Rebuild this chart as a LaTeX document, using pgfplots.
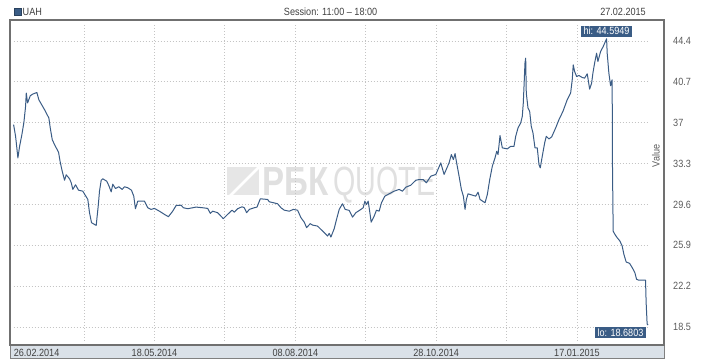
\documentclass[border=0pt]{standalone}
\usepackage{fontspec}
\setmainfont{Liberation Sans}[FakeStretch=0.87]
\newfontfamily\wmfont{Liberation Sans}
\usepackage{pgfplots}
\pgfplotsset{compat=1.18}
\definecolor{lineblue}{RGB}{58,92,133}
\definecolor{framecol}{RGB}{112,112,112}
\definecolor{bandcol}{RGB}{218,225,232}
\definecolor{bandline}{RGB}{128,128,128}
\definecolor{datecol}{RGB}{64,64,64}
\definecolor{tickgray}{RGB}{90,90,90}
\definecolor{gridgray}{RGB}{196,196,196}
\definecolor{wm}{RGB}{224,224,224}
\definecolor{wmlogo}{RGB}{230,230,230}
\newcommand{\chartfont}{\fontsize{10.5}{12}\selectfont}
\begin{document}
\begin{tikzpicture}[font=\chartfont]
\useasboundingbox (0,0) rectangle (718bp,360bp);
% watermark
\begin{scope}[x=1bp,y=1bp]
\fill[wmlogo] (227,165) rectangle (259,193);
\draw[white, line width=2.5bp] (229,163) -- (261,195);
\node[anchor=base west, inner sep=0pt, text=wm] at (262,165) {\resizebox{66bp}{28bp}{\wmfont\bfseries РБК}};
\node[anchor=base west, inner sep=0pt, text=wm] at (333,165) {\resizebox{102bp}{28.5bp}{\wmfont QUOTE}};
\end{scope}
\begin{axis}[
  at={(13.6bp,19bp)}, anchor=south west,
  scale only axis, width=634.7bp, height=317bp,
  xmin=0, xmax=365, ymin=17.24, ymax=45.93,
  axis line style={draw=none},
  major tick length=0pt,
  xtick={40.5,81,121.5,162,202.5,243,283.5,324},
  xticklabels=\empty,
  xticklabel style={text opacity=0, minimum size=0pt, inner sep=0pt, font=\fontsize{0.1}{0.1}\selectfont},
  ytick={18.5,22.2,25.9,29.6,33.3,37,40.7,44.4},
  yticklabels={18.5,22.2,25.9,29.6,33.3,37,40.7,44.4},
  yticklabel pos=right,
  yticklabel style={anchor=west, inner sep=0pt, xshift=24.7bp, font=\chartfont, text=tickgray},
  grid=major,
  major grid style={draw=gridgray, line width=0.8bp, dash pattern=on 1bp off 2bp},
  clip=false,
]
\addplot[lineblue, line width=1bp, line join=round] coordinates {
(0,36.82) (1.15,35.76) (2.47,33.81) (3.45,34.86) (4.77,35.92) (5.92,37.03)
(6.89,38.47) (7.29,39.68) (8.04,38.78) (9.59,39.44) (11.09,39.59) (13.38,39.73)
(14.53,39.07) (15.91,38.69) (17.81,38.17) (20.28,37.42) (21.08,36.52) (22.23,35.46)
(23.55,35.01) (25.85,34.32) (26.82,33.42) (27.97,32.6) (29.29,31.79) (30.27,32.28)
(32.17,31.92) (33.14,31.56) (34.06,30.96) (35.61,31.38) (37.34,30.89) (39.8,30.8)
(40.95,30.5) (42.68,30.05) (43.65,28.85) (44.8,27.95) (47.5,27.7) (48.65,29.44)
(49.4,30.8) (50.37,31.79) (51.29,31.92) (53.59,31.7) (54.74,31.31) (56.12,30.74)
(57.04,31.43) (58.59,31.04) (60.48,31.2) (62.44,30.96) (63.76,31.2) (65.65,31.11)
(67.78,30.89) (69.1,30.35) (70.07,29.21) (71.4,29.9) (75.24,29.9) (77.14,29.3)
(79.09,29.15) (80.99,29.24) (83.86,28.99) (86.73,28.7) (89.03,28.49) (91.5,28.99)
(93.45,29.5) (96.32,29.53) (97.65,29.3) (100.11,29.21) (104.94,29.36) (108.73,29.3)
(111.6,29.24) (113.15,28.79) (114.47,28.99) (117.35,28.85) (120.62,28.31) (123.09,28.7)
(125.62,29.08) (126.94,28.9) (128.83,29.21) (131.36,29.39) (132.68,29.3) (134.0,28.85)
(135.55,29.15) (138.43,29.3) (139.98,29.36) (141.87,30.11) (146.07,30.05) (147.04,29.84)
(149.51,29.75) (151.81,29.66) (153.76,29.3) (155.66,29.08) (158.53,28.99) (160.83,29.15)
(163.3,29.08) (165.25,28.4) (167.15,28.0) (168.47,27.5) (170.59,27.86) (171.91,27.73)
(174.78,27.64) (176.74,27.34) (179.21,26.96) (180.53,26.74) (181.5,26.98) (182.48,26.65)
(184.38,27.41) (185.7,28.24) (187.25,29.15) (189.14,29.66) (190.7,29.15) (193.0,29.06)
(194.89,28.45) (196.84,28.85) (199.71,29.15) (201.03,29.3) (202.01,29.9) (202.93,29.6)
(203.91,29.9) (204.88,28.85) (205.63,28.0) (207.35,28.54) (208.67,29.08) (210.22,28.99)
(211.55,29.75) (213.5,30.35) (215.97,30.56) (218.84,30.8) (221.71,30.96) (223.61,30.8)
(225.56,31.16) (228.43,31.34) (231.3,31.79) (233.2,31.85) (235.5,31.85) (237.39,31.56)
(239.92,32.16) (242.79,32.31) (245.66,33.36) (247.56,32.31) (250.43,33.36) (251.75,34.11)
(252.9,33.66) (253.88,34.2) (254.62,33.51) (256.18,32.16) (257.5,30.96) (258.64,30.35)
(259.62,29.15) (260.37,30.05) (261.34,30.56) (263.81,30.44) (265.76,30.35) (267.09,30.71)
(268.24,30.05) (271.11,29.75) (272.43,30.5) (273.81,31.85) (275.3,33.06) (276.85,33.81)
(277.83,34.41) (278.58,34.11) (279.72,35.83) (281.05,34.72) (283.92,34.63) (285.87,34.86)
(287.77,34.86) (288.74,35.76) (290.06,36.52) (291.61,36.97) (292.53,37.57) (293.11,38.78)
(293.68,40.88) (294.08,42.39) (294.49,42.84) (294.83,39.68) (295.81,38.33) (296.78,38.02)
(297.7,36.67) (298.68,36.07) (299.83,34.72) (301.15,34.72) (302.13,33.21) (302.87,32.91)
(304.02,33.96) (305.4,35.17) (306.32,35.76) (307.87,35.53) (309.42,35.71) (311.72,36.52)
(313.61,37.27) (315.91,38.02) (318.38,39.08) (320.33,39.68) (321.25,40.88) (321.83,42.23)
(322.63,41.63) (323.78,41.18) (325.1,41.27) (327.0,41.09) (328.37,41.03) (329.87,41.42)
(330.44,40.88) (331.25,40.04) (332.4,40.58) (333.14,41.48) (334.12,42.39) (335.27,43.29)
(336.01,42.53) (337.56,43.44) (339.06,43.89) (341.01,44.5949) (341.36,43.29) (342.33,41.48)
(343.31,40.34) (343.88,40.73) (344.23,40.88) (344.34,33.96) (344.8,27.19) (345.78,26.89)
(347.1,26.59) (348.65,26.29) (349.97,25.84) (350.95,25.09) (352.27,24.39) (354.22,24.27)
(355.71,23.89) (357.27,23.43) (358.24,22.83) (359.56,22.74) (363.41,22.74) (363.75,20.73)
(364.33,18.77) (364.9,18.6803)
};
\node[anchor=south, fill=lineblue, text=white, inner xsep=2.5bp, inner ysep=1.5bp, font=\chartfont, yshift=2bp] at (axis cs:341.01,44.5949) {hi: 44.5949};
\node[anchor=north east, fill=lineblue, text=white, inner xsep=2.5bp, inner ysep=1.5bp, font=\chartfont, xshift=-2bp, yshift=-2bp] at (axis cs:364.9,18.6803) {lo: 18.6803};
\end{axis}
\begin{scope}[x=1bp,y=1bp]
% band and frame
\fill[bandcol] (10,2) rectangle (664,15);
\draw[bandline, line width=0.8bp] (10,15) -- (10,2) -- (664,2) -- (664,15);
\draw[framecol, line width=1.1bp] (10,15) rectangle (664,340);
% date labels
\node[anchor=base west, inner sep=0pt, text=datecol] at (13.6,3.5) {26.02.2014};
\node[anchor=base, inner sep=0pt, text=datecol] at (154.5,3.5) {18.05.2014};
\node[anchor=base, inner sep=0pt, text=datecol] at (295.3,3.5) {08.08.2014};
\node[anchor=base, inner sep=0pt, text=datecol] at (436.2,3.5) {28.10.2014};
\node[anchor=base, inner sep=0pt, text=datecol] at (577,3.5) {17.01.2015};
% header
\fill[lineblue] (14,345) rectangle (21,352);
\draw[lineblue!70!black, line width=0.5bp] (14,345) rectangle (21,352);
\node[anchor=base west, inner sep=0pt, text=datecol] at (22.5,345) {UAH};
\node[anchor=base, inner sep=0pt, text=datecol] at (330.6,345) {Session: 11:00 – 18:00};
\node[anchor=base east, inner sep=0pt, text=datecol] at (646,345) {27.02.2015};
\node[rotate=90, inner sep=0pt, text=tickgray] at (656,204) {Value};
\end{scope}
\end{tikzpicture}
\end{document}
